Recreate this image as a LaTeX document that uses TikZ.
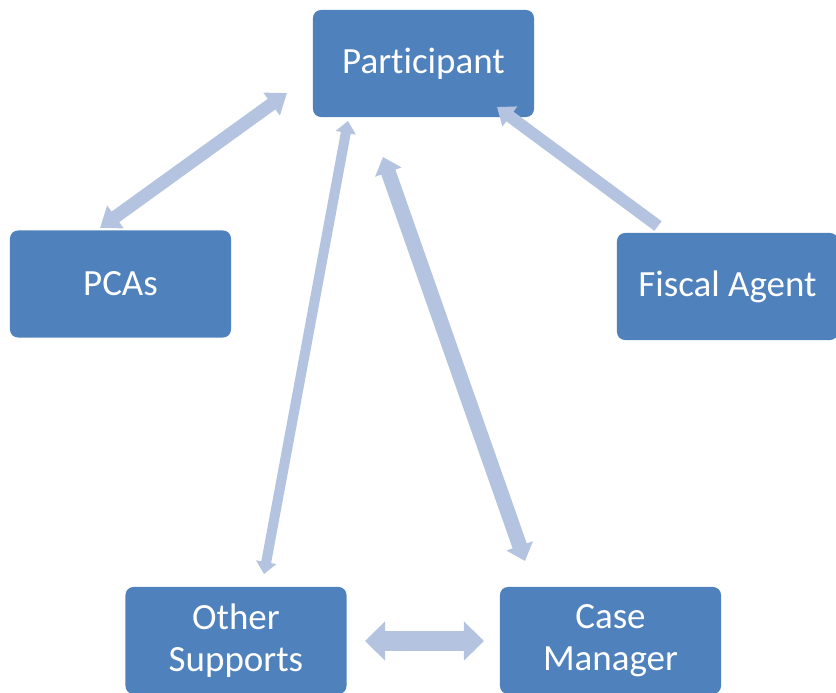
\documentclass[tikz,border=0pt]{standalone}
\usepackage{fontspec}
\setmainfont[Ligatures=NoCommon]{Carlito}
\usepackage{tikz}
\usetikzlibrary{arrows.meta}

\definecolor{boxblue}{RGB}{79,129,189}
\definecolor{linkblue}{RGB}{180,196,224}

\tikzset{
	role/.style={fill=boxblue, rounded corners=0.2cm, minimum width=5.525cm, minimum height=2.675cm,
		inner sep=0pt, text=white, align=center, font=\fontsize{26.3}{30}\selectfont},
	link/.style={draw=linkblue, line width=#1, line cap=butt},
}

\begin{document}
\begin{tikzpicture}[x=0.025cm, y=-0.025cm]

		\useasboundingbox (0,0) rectangle (836,692);

		\node[role, at={(423.5, 63.5)}] (part) {Participant};
		\node[role, at={(120.5, 284)}] (pca) {PCAs};
		\node[role, at={(727.5, 286.5)}] (fiscal) {Fiscal Agent};
		\node[role, at={(236, 640.5)}] (other) {Other\\Supports};
		\node[role, at={(610.5, 640.5)}] (case) {Case\\Manager};

		\coordinate (pcaA) at (100, 228);
		\coordinate (pcaB) at (287, 93);
		\coordinate (fisA) at (658, 226);
		\coordinate (fisB) at (497, 107);
		\coordinate (othA) at (264, 574);
		\coordinate (othB) at (348, 121);
		\coordinate (casA) at (525, 561);
		\coordinate (casB) at (383, 157);
		\coordinate (botA) at (365, 641);
		\coordinate (botB) at (484, 641);

		\draw[link=0.325cm, {Triangle[width=0.675cm, length=0.475cm]}-{Triangle[width=0.675cm, length=0.475cm]}] (pcaA) -- (pcaB);
		\draw[link=0.3cm, -{Triangle[width=0.6cm, length=0.4cm]}] (fisA) -- (fisB);
		\draw[link=0.25cm, {Triangle[width=0.5cm, length=0.3cm]}-{Triangle[width=0.5cm, length=0.3cm]}] (othA) -- (othB);
		\draw[link=0.375cm, {Triangle[width=0.675cm, length=0.4cm]}-{Triangle[width=0.675cm, length=0.4cm]}] (casA) -- (casB);
		\draw[link=0.5cm, {Triangle[width=0.95cm, length=0.5cm]}-{Triangle[width=0.95cm, length=0.5cm]}] (botA) -- (botB);

	\end{tikzpicture}
\end{document}
